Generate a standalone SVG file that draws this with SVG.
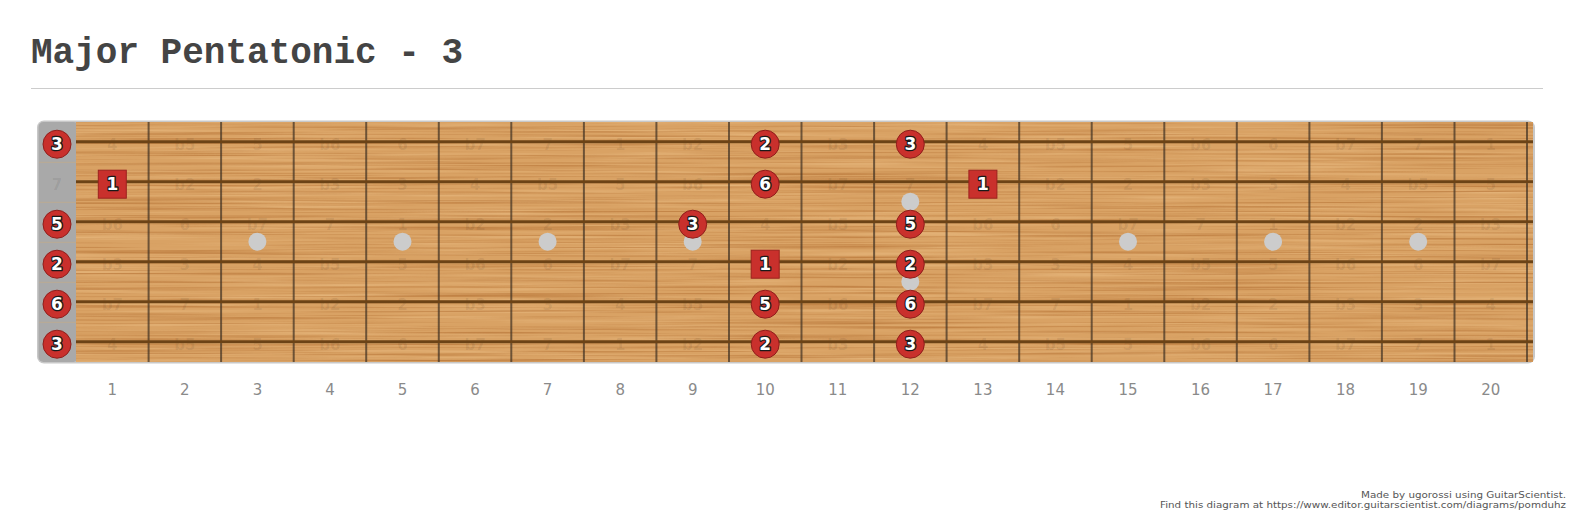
<svg xmlns="http://www.w3.org/2000/svg" width="1573" height="519" viewBox="0 0 1573 519">
<defs>
<filter id="grainDark" x="0" y="0" width="1" height="1" color-interpolation-filters="sRGB">
<feTurbulence type="fractalNoise" baseFrequency="0.003 0.45" numOctaves="4" seed="7"/>
<feColorMatrix type="matrix" values="0 0 0 0 0.66  0 0 0 0 0.38  0 0 0 0 0.14  1.3 0 0 0 -0.6"/>
</filter>
<filter id="grainLight" x="0" y="0" width="1" height="1" color-interpolation-filters="sRGB">
<feTurbulence type="fractalNoise" baseFrequency="0.005 0.3" numOctaves="3" seed="23"/>
<feColorMatrix type="matrix" values="0 0 0 0 0.93  0 0 0 0 0.76  0 0 0 0 0.54  1.2 0 0 0 -0.55"/>
</filter>
<style>
.title{font-family:"Liberation Mono","Courier New",monospace;font-weight:bold;font-size:36px;fill:#444}
.fretnum{font-family:"DejaVu Sans",Verdana,sans-serif;font-size:15px;fill:#8a8a8a;text-anchor:middle}
.lbl text{font-family:"DejaVu Sans",Verdana,sans-serif;font-weight:bold;font-size:15px;fill:#000;fill-opacity:0.08;text-anchor:middle}
.fret{stroke:#3e3022;stroke-opacity:0.7;stroke-width:2}
.str{stroke:#6c4316;stroke-width:3}
.nutline{stroke:#c9ab80;stroke-opacity:0.55;stroke-width:1}
.dot{fill:#cccccc}
.mk circle{fill:#c9302c;stroke:#8f1e1b;stroke-width:1}
.mk rect{fill:#c9302c;stroke:#9c221f;stroke-width:1}
.mk text{font-family:"DejaVu Sans",Verdana,sans-serif;font-weight:bold;font-size:17px;fill:#fff;stroke:#1a1a1a;stroke-width:2.6;stroke-linejoin:round;paint-order:stroke;text-anchor:middle}
.foot{font-family:"DejaVu Sans",Verdana,sans-serif;font-size:9px;fill:#555;text-anchor:end}
</style>
</defs>
<rect width="1573" height="519" fill="#fff"/>
<text class="title" x="31" y="63">Major Pentatonic - 3</text>
<line x1="31" y1="88.5" x2="1543" y2="88.5" stroke="#cccccc" stroke-width="1"/>

<g id="fretboard">
<rect x="37" y="120.5" width="1498" height="243" rx="7" fill="#c8c8c8"/>
<rect x="38.5" y="122" width="40" height="240" rx="5" fill="#a9a9a9"/>
<rect x="76" y="122" width="1457" height="240" fill="#d9a264"/>
<rect x="76" y="122" width="1457" height="240" fill="#000" filter="url(#grainLight)"/>
<rect x="76" y="122" width="1457" height="240" fill="#000" filter="url(#grainDark)"/>
<g id="nut-lines">
<line class="nutline" x1="39" y1="162.3" x2="76" y2="162.3"/>
<line class="nutline" x1="39" y1="202.3" x2="76" y2="202.3"/>
<line class="nutline" x1="39" y1="242.3" x2="76" y2="242.3"/>
<line class="nutline" x1="39" y1="282.3" x2="76" y2="282.3"/>
<line class="nutline" x1="39" y1="322.3" x2="76" y2="322.3"/>
</g>
</g>

<g id="interval-labels" class="lbl">
<text x="57" y="190">7</text>
<text x="112.3" y="150">4</text><text x="184.8" y="150">b5</text><text x="257.4" y="150">5</text><text x="329.9" y="150">b6</text><text x="402.5" y="150">6</text><text x="475" y="150">b7</text><text x="547.6" y="150">7</text><text x="620.2" y="150">1</text><text x="692.7" y="150">b2</text><text x="837.8" y="150">b3</text><text x="982.9" y="150">4</text><text x="1055.4" y="150">b5</text><text x="1128" y="150">5</text><text x="1200.5" y="150">b6</text><text x="1273.1" y="150">6</text><text x="1345.6" y="150">b7</text><text x="1418.2" y="150">7</text><text x="1490.7" y="150">1</text>
<text x="184.8" y="190">b2</text><text x="257.4" y="190">2</text><text x="329.9" y="190">b3</text><text x="402.5" y="190">3</text><text x="475" y="190">4</text><text x="547.6" y="190">b5</text><text x="620.2" y="190">5</text><text x="692.7" y="190">b6</text><text x="837.8" y="190">b7</text><text x="910.3" y="190">7</text><text x="1055.4" y="190">b2</text><text x="1128" y="190">2</text><text x="1200.5" y="190">b3</text><text x="1273.1" y="190">3</text><text x="1345.6" y="190">4</text><text x="1418.2" y="190">b5</text><text x="1490.7" y="190">5</text>
<text x="112.3" y="230">b6</text><text x="184.8" y="230">6</text><text x="257.4" y="230">b7</text><text x="329.9" y="230">7</text><text x="402.5" y="230">1</text><text x="475" y="230">b2</text><text x="547.6" y="230">2</text><text x="620.2" y="230">b3</text><text x="765.2" y="230">4</text><text x="837.8" y="230">b5</text><text x="982.9" y="230">b6</text><text x="1055.4" y="230">6</text><text x="1128" y="230">b7</text><text x="1200.5" y="230">7</text><text x="1273.1" y="230">1</text><text x="1345.6" y="230">b2</text><text x="1418.2" y="230">2</text><text x="1490.7" y="230">b3</text>
<text x="112.3" y="270">b3</text><text x="184.8" y="270">3</text><text x="257.4" y="270">4</text><text x="329.9" y="270">b5</text><text x="402.5" y="270">5</text><text x="475" y="270">b6</text><text x="547.6" y="270">6</text><text x="620.2" y="270">b7</text><text x="692.7" y="270">7</text><text x="837.8" y="270">b2</text><text x="982.9" y="270">b3</text><text x="1055.4" y="270">3</text><text x="1128" y="270">4</text><text x="1200.5" y="270">b5</text><text x="1273.1" y="270">5</text><text x="1345.6" y="270">b6</text><text x="1418.2" y="270">6</text><text x="1490.7" y="270">b7</text>
<text x="112.3" y="310">b7</text><text x="184.8" y="310">7</text><text x="257.4" y="310">1</text><text x="329.9" y="310">b2</text><text x="402.5" y="310">2</text><text x="475" y="310">b3</text><text x="547.6" y="310">3</text><text x="620.2" y="310">4</text><text x="692.7" y="310">b5</text><text x="837.8" y="310">b6</text><text x="982.9" y="310">b7</text><text x="1055.4" y="310">7</text><text x="1128" y="310">1</text><text x="1200.5" y="310">b2</text><text x="1273.1" y="310">2</text><text x="1345.6" y="310">b3</text><text x="1418.2" y="310">3</text><text x="1490.7" y="310">4</text>
<text x="112.3" y="350">4</text><text x="184.8" y="350">b5</text><text x="257.4" y="350">5</text><text x="329.9" y="350">b6</text><text x="402.5" y="350">6</text><text x="475" y="350">b7</text><text x="547.6" y="350">7</text><text x="620.2" y="350">1</text><text x="692.7" y="350">b2</text><text x="837.8" y="350">b3</text><text x="982.9" y="350">4</text><text x="1055.4" y="350">b5</text><text x="1128" y="350">5</text><text x="1200.5" y="350">b6</text><text x="1273.1" y="350">6</text><text x="1345.6" y="350">b7</text><text x="1418.2" y="350">7</text><text x="1490.7" y="350">1</text>
</g>

<g id="frets">
<line class="fret" x1="148.6" y1="122" x2="148.6" y2="362"/>
<line class="fret" x1="221.1" y1="122" x2="221.1" y2="362"/>
<line class="fret" x1="293.7" y1="122" x2="293.7" y2="362"/>
<line class="fret" x1="366.2" y1="122" x2="366.2" y2="362"/>
<line class="fret" x1="438.8" y1="122" x2="438.8" y2="362"/>
<line class="fret" x1="511.3" y1="122" x2="511.3" y2="362"/>
<line class="fret" x1="583.9" y1="122" x2="583.9" y2="362"/>
<line class="fret" x1="656.4" y1="122" x2="656.4" y2="362"/>
<line class="fret" x1="729" y1="122" x2="729" y2="362"/>
<line class="fret" x1="801.5" y1="122" x2="801.5" y2="362"/>
<line class="fret" x1="874.1" y1="122" x2="874.1" y2="362"/>
<line class="fret" x1="946.6" y1="122" x2="946.6" y2="362"/>
<line class="fret" x1="1019.2" y1="122" x2="1019.2" y2="362"/>
<line class="fret" x1="1091.7" y1="122" x2="1091.7" y2="362"/>
<line class="fret" x1="1164.3" y1="122" x2="1164.3" y2="362"/>
<line class="fret" x1="1236.8" y1="122" x2="1236.8" y2="362"/>
<line class="fret" x1="1309.4" y1="122" x2="1309.4" y2="362"/>
<line class="fret" x1="1381.9" y1="122" x2="1381.9" y2="362"/>
<line class="fret" x1="1454.5" y1="122" x2="1454.5" y2="362"/>
<line class="fret" x1="1527" y1="122" x2="1527" y2="362"/>
</g>

<g id="strings">
<line class="str" x1="76" y1="141.7" x2="1533" y2="141.7"/>
<line class="str" x1="76" y1="181.7" x2="1533" y2="181.7"/>
<line class="str" x1="76" y1="221.7" x2="1533" y2="221.7"/>
<line class="str" x1="76" y1="261.7" x2="1533" y2="261.7"/>
<line class="str" x1="76" y1="301.7" x2="1533" y2="301.7"/>
<line class="str" x1="76" y1="341.7" x2="1533" y2="341.7"/>
</g>

<g id="inlays">
<circle class="dot" cx="257.4" cy="241.7" r="9"/>
<circle class="dot" cx="402.5" cy="241.7" r="9"/>
<circle class="dot" cx="547.6" cy="241.7" r="9"/>
<circle class="dot" cx="692.7" cy="241.7" r="9"/>
<circle class="dot" cx="910.3" cy="201.7" r="9"/>
<circle class="dot" cx="910.3" cy="281.7" r="9"/>
<circle class="dot" cx="1128" cy="241.7" r="9"/>
<circle class="dot" cx="1273.1" cy="241.7" r="9"/>
<circle class="dot" cx="1418.2" cy="241.7" r="9"/>
</g>

<g id="fret-numbers">
<text class="fretnum" x="112.3" y="395">1</text>
<text class="fretnum" x="184.8" y="395">2</text>
<text class="fretnum" x="257.4" y="395">3</text>
<text class="fretnum" x="329.9" y="395">4</text>
<text class="fretnum" x="402.5" y="395">5</text>
<text class="fretnum" x="475" y="395">6</text>
<text class="fretnum" x="547.6" y="395">7</text>
<text class="fretnum" x="620.2" y="395">8</text>
<text class="fretnum" x="692.7" y="395">9</text>
<text class="fretnum" x="765.2" y="395">10</text>
<text class="fretnum" x="837.8" y="395">11</text>
<text class="fretnum" x="910.3" y="395">12</text>
<text class="fretnum" x="982.9" y="395">13</text>
<text class="fretnum" x="1055.4" y="395">14</text>
<text class="fretnum" x="1128" y="395">15</text>
<text class="fretnum" x="1200.5" y="395">16</text>
<text class="fretnum" x="1273.1" y="395">17</text>
<text class="fretnum" x="1345.6" y="395">18</text>
<text class="fretnum" x="1418.2" y="395">19</text>
<text class="fretnum" x="1490.7" y="395">20</text>
</g>

<g id="markers">
<g id="m-open-s1" class="mk"><circle cx="57" cy="144.2" r="14"/><text x="57" y="150.4">3</text></g>
<g id="m-open-s3" class="mk"><circle cx="57" cy="224.2" r="14"/><text x="57" y="230.4">5</text></g>
<g id="m-open-s4" class="mk"><circle cx="57" cy="264.2" r="14"/><text x="57" y="270.4">2</text></g>
<g id="m-open-s5" class="mk"><circle cx="57" cy="304.2" r="14"/><text x="57" y="310.4">6</text></g>
<g id="m-open-s6" class="mk"><circle cx="57" cy="344.2" r="14"/><text x="57" y="350.4">3</text></g>
<g id="m-f1-s2" class="mk"><rect x="98.3" y="170.2" width="28" height="28"/><text x="112.3" y="190.4">1</text></g>
<g id="m-f9-s3" class="mk"><circle cx="692.7" cy="224.2" r="14"/><text x="692.7" y="230.4">3</text></g>
<g id="m-f10-s1" class="mk"><circle cx="765.2" cy="144.2" r="14"/><text x="765.2" y="150.4">2</text></g>
<g id="m-f10-s2" class="mk"><circle cx="765.2" cy="184.2" r="14"/><text x="765.2" y="190.4">6</text></g>
<g id="m-f10-s4" class="mk"><rect x="751.2" y="250.2" width="28" height="28"/><text x="765.2" y="270.4">1</text></g>
<g id="m-f10-s5" class="mk"><circle cx="765.2" cy="304.2" r="14"/><text x="765.2" y="310.4">5</text></g>
<g id="m-f10-s6" class="mk"><circle cx="765.2" cy="344.2" r="14"/><text x="765.2" y="350.4">2</text></g>
<g id="m-f12-s1" class="mk"><circle cx="910.3" cy="144.2" r="14"/><text x="910.3" y="150.4">3</text></g>
<g id="m-f12-s3" class="mk"><circle cx="910.3" cy="224.2" r="14"/><text x="910.3" y="230.4">5</text></g>
<g id="m-f12-s4" class="mk"><circle cx="910.3" cy="264.2" r="14"/><text x="910.3" y="270.4">2</text></g>
<g id="m-f12-s5" class="mk"><circle cx="910.3" cy="304.2" r="14"/><text x="910.3" y="310.4">6</text></g>
<g id="m-f12-s6" class="mk"><circle cx="910.3" cy="344.2" r="14"/><text x="910.3" y="350.4">3</text></g>
<g id="m-f13-s2" class="mk"><rect x="968.9" y="170.2" width="28" height="28"/><text x="982.9" y="190.4">1</text></g>
</g>

<g id="footer">
<text class="foot" x="1566" y="497.5" textLength="205" lengthAdjust="spacingAndGlyphs">Made by ugorossi using GuitarScientist.</text>
<text class="foot" x="1566" y="507.5" textLength="406" lengthAdjust="spacingAndGlyphs">Find this diagram at https://www.editor.guitarscientist.com/diagrams/pomduhz</text>
</g>
</svg>
